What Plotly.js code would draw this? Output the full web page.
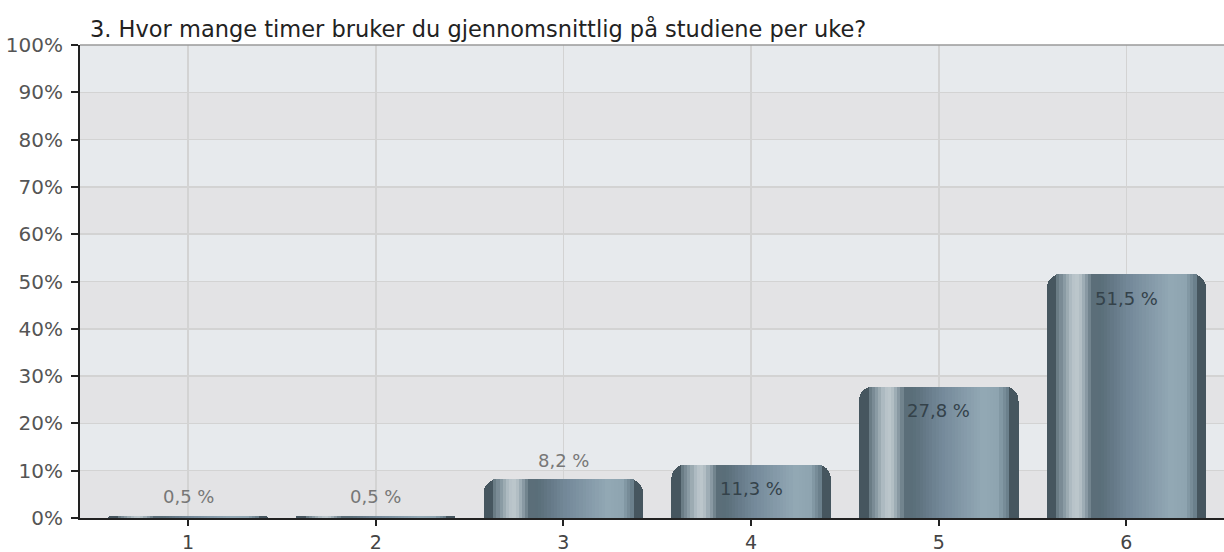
<!DOCTYPE html>
<html>
<head>
<meta charset="utf-8">
<script src="https://cdn.plot.ly/plotly-3.0.1.min.js"></script>
<style>
  html, body { margin: 0; padding: 0; background: #ffffff; }
  #chart { width: 1224px; height: 552px; }
</style>
</head>
<body>
<div id="chart"></div>
<script>
// data
const categories = [1, 2, 3, 4, 5, 6];
const shares = [0.5, 0.5, 8.2, 11.3, 27.8, 51.5];
const labels = ["0,5 %", "0,5 %", "8,2 %", "11,3 %", "27,8 %", "51,5 %"];
const yTicks = [0, 10, 20, 30, 40, 50, 60, 70, 80, 90, 100];
const titleText = "3. Hvor mange timer bruker du gjennomsnittlig på studiene per uke?";

const FONT = "DejaVu Sans, Verdana, sans-serif";
const BAR_W = 0.85;

// cylinder look: colour stops across the bar width (0 = left edge, 1 = right edge)
const stops = [
  [0.00, "#3e4d56"],
  [0.05, "#5a6c76"],
  [0.11, "#8a9ba4"],
  [0.16, "#b6c2c8"],
  [0.20, "#bcc7cc"],
  [0.24, "#94a4ad"],
  [0.29, "#5b6e79"],
  [0.34, "#5a6e79"],
  [0.52, "#74899a"],
  [0.78, "#93a9b5"],
  [0.87, "#8ea4b0"],
  [0.93, "#6b808c"],
  [1.00, "#3e4d56"],
];

function hexToRgb(h) {
  return [1, 3, 5].map((i) => parseInt(h.slice(i, i + 2), 16));
}
function colorAt(f) {
  for (let i = 1; i < stops.length; i++) {
    if (f <= stops[i][0]) {
      const [f0, c0] = stops[i - 1];
      const [f1, c1] = stops[i];
      const t = (f - f0) / (f1 - f0);
      const a = hexToRgb(c0), b = hexToRgb(c1);
      const m = a.map((v, k) => Math.round(v + (b[k] - v) * t));
      return `rgb(${m[0]},${m[1]},${m[2]})`;
    }
  }
  return stops[stops.length - 1][1];
}

const data = [];

// base bar with rounded top
data.push({
  type: "bar",
  x: categories,
  y: shares,
  width: BAR_W,
  marker: { color: "#46565f", cornerradius: 14, line: { width: 0 } },
  hoverinfo: "skip",
  showlegend: false,
});

// thin strips inside the bar to fake the gradient
const N = 44;
const inner0 = 0.06, inner1 = 0.94;
const step = (inner1 - inner0) / N;
for (let i = 0; i < N; i++) {
  const f = inner0 + step * (i + 0.5);
  data.push({
    type: "bar",
    x: categories,
    y: shares,
    width: BAR_W * step * 1.15,
    offset: -BAR_W / 2 + BAR_W * (inner0 + step * i),
    marker: { color: colorAt(f), line: { width: 0 } },
    hoverinfo: "skip",
    showlegend: false,
  });
}

// alternating background bands
const shapes = [];
for (let i = 0; i < yTicks.length - 1; i++) {
  shapes.push({
    type: "rect",
    xref: "paper",
    yref: "y",
    x0: 0,
    x1: 1,
    y0: yTicks[i],
    y1: yTicks[i + 1],
    fillcolor: i % 2 === 0 ? "#e3e3e5" : "#e7eaed",
    line: { width: 0 },
    layer: "below",
  });
}
shapes.push({
  type: "line",
  xref: "paper",
  yref: "paper",
  x0: 0,
  x1: 1,
  y0: 1,
  y1: 1,
  line: { color: "#9a9a9a", width: 1.5 },
});

// value labels: above small bars, inside near the top for the rest
const annotations = categories.map((c, i) => {
  const inside = shares[i] >= 10;
  return {
    x: c,
    y: shares[i],
    xref: "x",
    yref: "y",
    text: labels[i],
    showarrow: false,
    yanchor: "middle",
    yshift: inside ? -24 : 19,
    font: { family: FONT, size: 18, color: inside ? "#34424a" : "#777777" },
  };
});

const layout = {
  width: 1224,
  height: 552,
  margin: { l: 80, r: 0, t: 45, b: 34 },
  paper_bgcolor: "#ffffff",
  plot_bgcolor: "#e4e4e6",
  barmode: "overlay",
  bargap: 0,
  title: {
    text: titleText,
    x: 90 / 1224,
    xref: "container",
    xanchor: "left",
    y: 1 - 29 / 552,
    yref: "container",
    yanchor: "middle",
    font: { family: FONT, size: 22.5, color: "#222222" },
  },
  xaxis: {
    range: [0.424, 6.52],
    tickvals: categories,
    ticktext: categories.map(String),
    ticks: "outside",
    ticklen: 6,
    tickwidth: 2,
    tickcolor: "#222222",
    showline: true,
    linecolor: "#222222",
    linewidth: 2,
    showgrid: true,
    gridcolor: "#d3d3d3",
    gridwidth: 1.5,
    zeroline: false,
    tickfont: { family: FONT, size: 19, color: "#444444" },
    fixedrange: true,
  },
  yaxis: {
    range: [0, 100],
    tickvals: yTicks,
    ticktext: yTicks.map((v) => v + "%"),
    ticks: "outside",
    ticklen: 7,
    tickwidth: 2,
    tickcolor: "#222222",
    ticklabelstandoff: 4,
    showline: true,
    linecolor: "#222222",
    linewidth: 2,
    showgrid: true,
    gridcolor: "#d3d3d3",
    gridwidth: 1.5,
    zeroline: false,
    tickfont: { family: FONT, size: 20, color: "#555555" },
    fixedrange: true,
  },
  shapes,
  annotations,
  showlegend: false,
  hovermode: false,
};

Plotly.newPlot("chart", data, layout, { displayModeBar: false, staticPlot: true });
</script>
</body>
</html>
